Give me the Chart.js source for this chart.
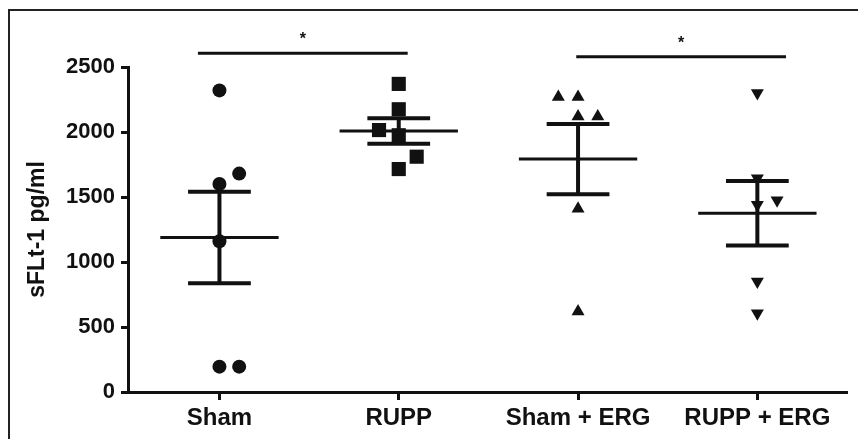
<!DOCTYPE html>
<html>
<head>
<meta charset="utf-8">
<script src="https://cdn.jsdelivr.net/npm/chart.js@4.4.1/dist/chart.umd.min.js"></script>
<style>
  html, body { margin: 0; padding: 0; background: #fff; }
  #wrap { position: relative; width: 858px; height: 439px; overflow: hidden; }
  #frame { position: absolute; left: 8px; top: 9px; right: 0; bottom: 0; border-left: 2px solid #222; border-top: 2px solid #222; }
  #chart { position: absolute; left: 0; top: 0; }
</style>
</head>
<body>
<div id="wrap">
  <div id="frame"></div>
  <canvas id="chart" width="858" height="439"></canvas>
</div>
<script>
const groups = ['Sham', 'RUPP', 'Sham + ERG', 'RUPP + ERG'];
const yTicks = [0, 500, 1000, 1500, 2000, 2500];

// individual animals (pg/ml)
const shamValues = [2320, 1680, 1600, 1160, 195, 195];
const ruppValues = [2370, 2175, 2015, 1975, 1810, 1715];
const shamErgValues = [2270, 2270, 2120, 2120, 1410, 620];
const ruppErgValues = [2300, 1645, 1475, 1440, 850, 605];

// sideways spread of overlapping points (category units)
const shamSpread = [0, 0.11, 0, 0, 0, 0.11];
const ruppSpread = [0, 0, -0.11, 0, 0.1, 0];
const shamErgSpread = [-0.11, 0, 0, 0.11, 0, 0];
const ruppErgSpread = [0, 0, 0.11, 0, 0, 0];

// mean +/- SEM per group
const means = [1188, 2008, 1792, 1375];
const sems = [352, 98, 270, 249];

// significance brackets
const sigFrom = [-0.12, 1.99];
const sigTo = [1.05, 3.16];
const sigLevel = [2605, 2578];
const sigMark = ['*', '*'];

Chart.defaults.font.family = '"Liberation Sans", Arial, sans-serif';
Chart.defaults.color = '#111';

const INK = '#111';
const MEAN_HALF = 0.33;
const CAP_HALF = 0.175;

// build a single line dataset out of separate segments, broken by nulls
function segments(list) {
    const out = [];
    list.forEach(s => {
        out.push({ x: s[0], y: s[1] }, { x: s[2], y: s[3] }, { x: s[2], y: null });
    });
    return out;
}

function pointSet(values, spread, i, style, radius, rotation) {
    return {
        data: values.map((v, k) => ({ x: i + spread[k], y: v })),
        pointStyle: style,
        pointRadius: radius,
        rotation: rotation || 0,
        backgroundColor: INK,
        borderColor: INK,
        borderWidth: 0,
        showLine: false,
        order: 1
    };
}

const errorSegs = [];
const meanSegs = [];
means.forEach((m, i) => {
    const hi = m + sems[i];
    const lo = m - sems[i];
    errorSegs.push([i, lo, i, hi]);
    errorSegs.push([i - CAP_HALF, hi, i + CAP_HALF, hi]);
    errorSegs.push([i - CAP_HALF, lo, i + CAP_HALF, lo]);
    meanSegs.push([i - MEAN_HALF, m, i + MEAN_HALF, m]);
});
const sigSegs = sigFrom.map((f, k) => [f, sigLevel[k], sigTo[k], sigLevel[k]]);

function lineSet(data, width, clip) {
    return {
        data: data,
        showLine: true,
        spanGaps: false,
        pointRadius: 0,
        borderColor: INK,
        borderWidth: width,
        clip: clip,
        order: 2
    };
}

const sigStars = {
    id: 'sigStars',
    afterDatasetsDraw(chart) {
        const { ctx, scales: { x, y } } = chart;
        ctx.save();
        ctx.font = 'bold 16px "Liberation Sans", Arial, sans-serif';
        ctx.fillStyle = INK;
        ctx.textAlign = 'center';
        ctx.textBaseline = 'alphabetic';
        sigMark.forEach((m, k) => {
            ctx.fillText(m, x.getPixelForValue((sigFrom[k] + sigTo[k]) / 2), y.getPixelForValue(sigLevel[k]) - 9);
        });
        ctx.restore();
    }
};

new Chart(document.getElementById('chart'), {
    type: 'scatter',
    data: {
        datasets: [
            pointSet(shamValues, shamSpread, 0, 'circle', 7),
            pointSet(ruppValues, ruppSpread, 1, 'rect', 10),
            pointSet(shamErgValues, shamErgSpread, 2, 'triangle', 7.5),
            pointSet(ruppErgValues, ruppErgSpread, 3, 'triangle', 7.5, 180),
            lineSet(segments(errorSegs), 4, undefined),
            lineSet(segments(meanSegs), 3, undefined),
            lineSet(segments(sigSegs), 3, false)
        ]
    },
    options: {
        responsive: false,
        animation: false,
        devicePixelRatio: 1,
        layout: { padding: { top: 67, right: 11, left: 0, bottom: 0 } },
        plugins: { legend: { display: false }, tooltip: { enabled: false } },
        scales: {
            x: {
                type: 'linear',
                min: -0.51,
                max: 3.5,
                afterBuildTicks: s => { s.ticks = groups.map((g, i) => ({ value: i })); },
                afterFit: s => { s.height = 47; },
                ticks: {
                    callback: v => groups[v],
                    color: INK,
                    font: { size: 24, weight: 'bold' },
                    padding: 4,
                    maxRotation: 0,
                    autoSkip: false
                },
                grid: { drawOnChartArea: false, drawTicks: true, tickLength: 8, tickWidth: 3, tickColor: INK },
                border: { display: true, color: INK, width: 3 }
            },
            y: {
                min: 0,
                max: 2500,
                afterBuildTicks: s => { s.ticks = yTicks.map(v => ({ value: v })); },
                afterFit: s => { s.width = 128; },
                ticks: { callback: v => String(v), color: INK, font: { size: 22, weight: 'bold' }, padding: 6 },
                grid: { drawOnChartArea: false, drawTicks: true, tickLength: 7, tickWidth: 3, tickColor: INK },
                border: { display: true, color: INK, width: 3 },
                title: {
                    display: true,
                    text: 'sFLt-1 pg/ml',
                    color: INK,
                    font: { size: 23, weight: 'bold' },
                    padding: { top: 24, bottom: 0 }
                }
            }
        }
    },
    plugins: [sigStars]
});
</script>
</body>
</html>
